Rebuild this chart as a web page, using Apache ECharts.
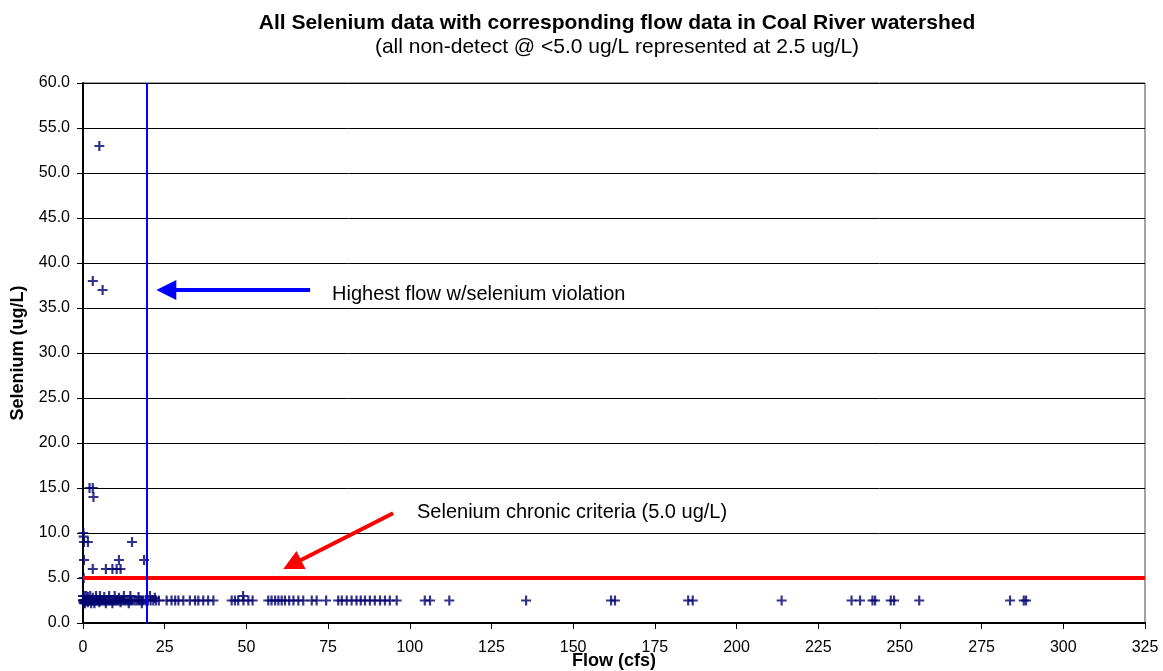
<!DOCTYPE html>
<html>
<head>
<meta charset="utf-8">
<script src="https://cdn.jsdelivr.net/npm/echarts@6/dist/echarts.min.js"></script>
<style>
  html, body { margin: 0; padding: 0; background: #fff; }
  #chart { width: 1163px; height: 671px; }
</style>
</head>
<body>
<div id="chart"></div>
<script>
// 坐标轴刻度
var xTicks = [0, 25, 50, 75, 100, 125, 150, 175, 200, 225, 250, 275, 300, 325];
var yTicks = [0, 5, 10, 15, 20, 25, 30, 35, 40, 45, 50, 55, 60];

// 检出值 (flow, selenium)
var detectFlow = [5, 3, 6, 2, 3, 3.2, 0.1, 0.2, 0.3, 1.5, 15, 0.3, 11, 18.7, 3, 7, 9, 10.3, 11.5, 0.2, 49];
var detectSe   = [53, 38, 37, 15, 15, 14, 10, 9.6, 9, 9, 9, 7, 7, 7, 6, 6, 6, 6, 6, 5, 3];

// 非检出 @ 2.5 ug/L
var ndFlow = [0, 0.1, 0.2, 0.3, 0.5, 0.7, 0.9, 1.1, 1.3, 1.6, 1.8, 2.0, 2.3, 2.6, 2.9, 3.2, 3.5, 3.8,
  4.1, 4.4, 4.8, 5.1, 5.5, 5.9, 6.3, 6.7, 7.1, 7.6, 8.0, 8.4, 8.9, 9.3, 9.8, 10.2, 10.7, 11.2, 11.7,
  12.3, 12.8, 13.4, 14.0, 14.6, 15.1, 15.8, 16.4, 17.1, 17.8, 18.4, 19.2, 19.9, 20.7, 21.5, 22.3, 23.2,
  25.6, 27.1, 28.2, 29.2, 30.7, 32.7, 34.3, 35.3, 36.8, 38.3, 39.9, 45.5, 46.5, 47.5, 49.1, 50.6, 51.9,
  56.7, 57.7, 58.8, 59.8, 60.8, 61.8, 63.1, 64.4, 65.9, 67.4, 70, 71.5, 74.4,
  78.1, 79.2, 80.7, 82.2, 83.7, 85, 86.3, 87.8, 89.3, 90.9, 92.4, 93.9, 96,
  104.6, 106.2, 112.1, 135.6, 161.6, 162.8, 185.2, 186.6, 213.8,
  235.2, 237.8, 241.6, 242.4, 247.2, 248.2, 255.9, 283.7, 287.9, 288.6];

// 左侧密集区的其他值
var lowFlow = [0, 0.4, 1, 1.5, 2.2, 3, 4, 5.2, 6.5, 8, 9.7, 11, 12.5, 14.5, 17, 20.5, 22,
  0.2, 0.6, 1.5, 2.5, 3.5, 5, 7, 9, 11.5, 14, 18];
var lowSe = [3, 3, 3, 2.9, 3, 2.8, 3, 3, 2.9, 3, 3, 2.8, 3, 3, 2.9, 3, 2.8,
  2.2, 2.2, 2.3, 2.2, 2.2, 2.3, 2.2, 2.2, 2.3, 2.2, 2.2];

var criteria = 5.0;
var highestFlow = 19.5;

var pts = [];
for (var i = 0; i < detectFlow.length; i++) pts.push([detectFlow[i], detectSe[i]]);
for (var j = 0; j < ndFlow.length; j++) pts.push([ndFlow[j], 2.5]);
for (var k = 0; k < lowFlow.length; k++) pts.push([lowFlow[k], lowSe[k]]);

var font = '"Liberation Sans", Arial, sans-serif';
var plus = 'path://M3.9,0 L6.1,0 L6.1,3.9 L10,3.9 L10,6.1 L6.1,6.1 L6.1,10 L3.9,10 L3.9,6.1 L0,6.1 L0,3.9 L3.9,3.9 Z';

var chart = echarts.init(document.getElementById('chart'));

chart.setOption({
    animation: false,
    backgroundColor: '#fff',
    textStyle: { fontFamily: font },
    title: {
        text: 'All Selenium data with corresponding flow data in Coal River watershed',
        subtext: '(all non-detect @ <5.0 ug/L represented at 2.5 ug/L)',
        left: 612,
        textAlign: 'center',
        top: 8,
        itemGap: 3,
        textStyle: { fontFamily: font, fontSize: 21, fontWeight: 'bold', color: '#000' },
        subtextStyle: { fontFamily: font, fontSize: 21, color: '#000' }
    },
    grid: {
        left: 83, right: 18, top: 83, bottom: 48,
        outerBoundsMode: 'none',
        containLabel: false,
        show: true, borderColor: '#444', borderWidth: 1
    },
    xAxis: {
        type: 'value',
        min: xTicks[0], max: xTicks[xTicks.length - 1], interval: 25,
        name: 'Flow (cfs)',
        nameLocation: 'middle',
        nameGap: 29,
        nameMoveOverlap: false,
        nameTextStyle: { fontFamily: font, fontSize: 18, fontWeight: 'bold', color: '#000' },
        axisLine: { lineStyle: { color: '#000', width: 2 } },
        axisTick: { show: true, inside: false, length: 6, lineStyle: { color: '#000' } },
        axisLabel: { fontFamily: font, fontSize: 16, color: '#000', margin: 17 },
        splitLine: { show: false }
    },
    yAxis: {
        type: 'value',
        min: yTicks[0], max: yTicks[yTicks.length - 1], interval: 5,
        name: 'Selenium (ug/L)',
        nameLocation: 'middle',
        nameGap: 56,
        nameTextStyle: { fontFamily: font, fontSize: 18, fontWeight: 'bold', color: '#000' },
        axisLine: { show: true, lineStyle: { color: '#000', width: 2 } },
        axisTick: { show: true, inside: false, length: 6, lineStyle: { color: '#000' } },
        axisLabel: {
            fontFamily: font, fontSize: 16, color: '#000', margin: 13,
            formatter: function (v) { return v.toFixed(1); }
        },
        splitLine: { show: true, lineStyle: { color: '#000', width: 1 } }
    },
    series: [
        {
            type: 'scatter',
            data: pts,
            symbol: plus,
            symbolSize: 10,
            itemStyle: { color: '#00006e' },
            z: 3,
            markLine: {
                silent: true,
                symbol: 'none',
                label: { show: false },
                data: [
                    { yAxis: criteria, lineStyle: { color: '#ff0000', width: 4, type: 'solid' } },
                    { xAxis: highestFlow, lineStyle: { color: '#0000ff', width: 2, type: 'solid' } }
                ]
            }
        },
        {
            // 蓝色箭头
            type: 'line',
            data: [],
            markLine: {
                silent: true,
                symbol: ['none', 'triangle'],
                symbolSize: [20, 20],
                label: { show: false },
                lineStyle: { color: '#0000ff', width: 4, type: 'solid' },
                data: [[{ coord: [69.5, 37], symbol: 'none' }, { coord: [25.5, 37], symbol: 'triangle', symbolSize: 20 }]]
            }
        },
        {
            // 红色箭头
            type: 'line',
            data: [],
            markLine: {
                silent: true,
                symbol: ['none', 'triangle'],
                symbolSize: [20, 20],
                label: { show: false },
                lineStyle: { color: '#ff0000', width: 4, type: 'solid' },
                data: [[{ coord: [94.9, 12.2], symbol: 'none' }, { coord: [64.0, 6.5], symbol: 'triangle', symbolSize: 20 }]]
            }
        }
    ],
    graphic: [
        {
            type: 'text', left: 332, top: 284,
            style: { text: 'Highest flow w/selenium violation', font: '20px ' + font, fill: '#000' }
        },
        {
            type: 'text', left: 417, top: 502,
            style: { text: 'Selenium chronic criteria (5.0 ug/L)', font: '20px ' + font, fill: '#000' }
        }
    ]
});
</script>
</body>
</html>
